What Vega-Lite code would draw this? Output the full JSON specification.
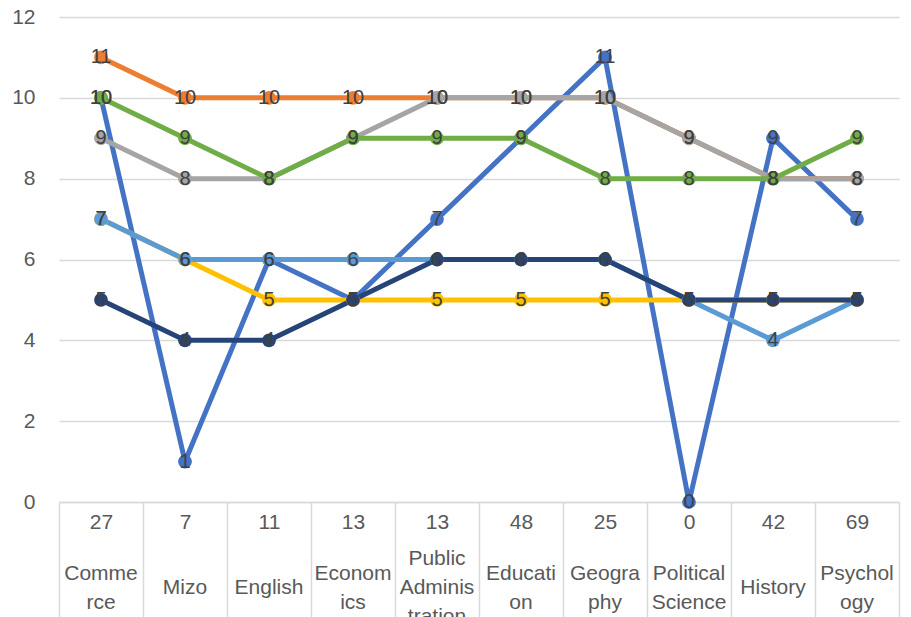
{
  "$schema": "https://vega.github.io/schema/vega-lite/v6.json",
  "width": 840,
  "height": 485,
  "autosize": {"type": "none"},
  "padding": {"left": 59, "top": 17, "right": 12, "bottom": 115},
  "background": "white",
  "config": {"view": {"stroke": null}, "font": "Liberation Sans"},
  "data": {"values": [
    {"subject":"Commerce","series":"S1","value":10},{"subject":"Mizo","series":"S1","value":1},{"subject":"English","series":"S1","value":6},{"subject":"Economics","series":"S1","value":5},{"subject":"Public Administration","series":"S1","value":7},{"subject":"Education","series":"S1","value":9},{"subject":"Geography","series":"S1","value":11},{"subject":"Political Science","series":"S1","value":0},{"subject":"History","series":"S1","value":9},{"subject":"Psychology","series":"S1","value":7},
    {"subject":"Commerce","series":"S2","value":11},{"subject":"Mizo","series":"S2","value":10},{"subject":"English","series":"S2","value":10},{"subject":"Economics","series":"S2","value":10},{"subject":"Public Administration","series":"S2","value":10},{"subject":"Education","series":"S2","value":10},{"subject":"Geography","series":"S2","value":10},{"subject":"Political Science","series":"S2","value":9},{"subject":"History","series":"S2","value":8},{"subject":"Psychology","series":"S2","value":8},
    {"subject":"Commerce","series":"S3","value":9},{"subject":"Mizo","series":"S3","value":8},{"subject":"English","series":"S3","value":8},{"subject":"Economics","series":"S3","value":9},{"subject":"Public Administration","series":"S3","value":10},{"subject":"Education","series":"S3","value":10},{"subject":"Geography","series":"S3","value":10},{"subject":"Political Science","series":"S3","value":9},{"subject":"History","series":"S3","value":8},{"subject":"Psychology","series":"S3","value":8},
    {"subject":"Commerce","series":"S4","value":7},{"subject":"Mizo","series":"S4","value":6},{"subject":"English","series":"S4","value":5},{"subject":"Economics","series":"S4","value":5},{"subject":"Public Administration","series":"S4","value":5},{"subject":"Education","series":"S4","value":5},{"subject":"Geography","series":"S4","value":5},{"subject":"Political Science","series":"S4","value":5},{"subject":"History","series":"S4","value":5},{"subject":"Psychology","series":"S4","value":5},
    {"subject":"Commerce","series":"S5","value":7},{"subject":"Mizo","series":"S5","value":6},{"subject":"English","series":"S5","value":6},{"subject":"Economics","series":"S5","value":6},{"subject":"Public Administration","series":"S5","value":6},{"subject":"Education","series":"S5","value":6},{"subject":"Geography","series":"S5","value":6},{"subject":"Political Science","series":"S5","value":5},{"subject":"History","series":"S5","value":4},{"subject":"Psychology","series":"S5","value":5},
    {"subject":"Commerce","series":"S6","value":10},{"subject":"Mizo","series":"S6","value":9},{"subject":"English","series":"S6","value":8},{"subject":"Economics","series":"S6","value":9},{"subject":"Public Administration","series":"S6","value":9},{"subject":"Education","series":"S6","value":9},{"subject":"Geography","series":"S6","value":8},{"subject":"Political Science","series":"S6","value":8},{"subject":"History","series":"S6","value":8},{"subject":"Psychology","series":"S6","value":9},
    {"subject":"Commerce","series":"S7","value":5},{"subject":"Mizo","series":"S7","value":4},{"subject":"English","series":"S7","value":4},{"subject":"Economics","series":"S7","value":5},{"subject":"Public Administration","series":"S7","value":6},{"subject":"Education","series":"S7","value":6},{"subject":"Geography","series":"S7","value":6},{"subject":"Political Science","series":"S7","value":5},{"subject":"History","series":"S7","value":5},{"subject":"Psychology","series":"S7","value":5}
  ]},
  "encoding": {
    "y": {
      "field": "value", "type": "quantitative",
      "scale": {"domain": [0, 12]},
      "axis": {"values": [0, 2, 4, 6, 8, 10, 12], "title": null, "grid": true, "gridColor": "#d9d9d9", "gridWidth": 1.5, "domain": false, "ticks": false, "labelFontSize": 21, "labelColor": "#595959", "labelPadding": 24}
    },
    "color": {
      "field": "series", "type": "nominal",
      "scale": {"domain": ["S1","S2","S3","S4","S5","S6","S7"], "range": ["#4472C4","#ED7D31","#A5A5A5","#FFC000","#5B9BD5","#70AD47","#264478"]},
      "legend": null
    }
  },
  "layer": [
    {
      "mark": {"type": "line", "strokeWidth": 5, "strokeJoin": "round", "strokeCap": "round"},
      "encoding": {
        "x": {
          "field": "subject", "type": "nominal", "sort": null,
          "scale": {"type": "band", "paddingInner": 0, "paddingOuter": 0},
          "axis": {
            "title": null, "orient": "bottom", "domain": true, "domainColor": "#d9d9d9", "domainWidth": 1.5,
            "ticks": true, "tickBand": "extent", "tickSize": 115, "tickColor": "#d9d9d9", "tickWidth": 1.5,
            "labelAngle": 0, "labelBaseline": "middle", "labelAlign": "center", "labelPadding": -95, "labelFontSize": 21, "labelColor": "#595959", "labelOverlap": false,
            "labelExpr": "{'Commerce':'27','Mizo':'7','English':'11','Economics':'13','Public Administration':'13','Education':'48','Geography':'25','Political Science':'0','History':'42','Psychology':'69'}[datum.value]"
          }
        }
      }
    },
    {
      "mark": {"type": "point", "filled": true, "size": 190, "opacity": 1, "shape": "circle"},
      "encoding": {
        "x": {
          "field": "subject", "type": "nominal", "sort": null,
          "scale": {"type": "band", "paddingInner": 0, "paddingOuter": 0},
          "axis": {
            "title": null, "orient": "bottom", "domain": false, "ticks": false, "grid": false,
            "labelAngle": 0, "labelBaseline": "middle", "labelAlign": "center", "labelPadding": 85, "labelFontSize": 21, "labelColor": "#595959", "labelOverlap": false,
            "labelExpr": "indexof(['Mizo','English','History'], datum.value) >= 0 ? datum.value : ''"
          }
        }
      }
    },
    {
      "transform": [{"filter": "indexof(['S1','S2','S3'], datum.series) >= 0"}],
      "mark": {"type": "text", "fontSize": 20, "align": "center", "baseline": "middle"},
      "encoding": {
        "x": {
          "field": "subject", "type": "nominal", "sort": null,
          "scale": {"type": "band", "paddingInner": 0, "paddingOuter": 0},
          "axis": {
            "title": null, "orient": "bottom", "domain": false, "ticks": false, "grid": false,
            "labelAngle": 0, "labelBaseline": "middle", "labelAlign": "center", "labelPadding": 71, "labelLineHeight": 29, "labelFontSize": 21, "labelColor": "#595959", "labelOverlap": false,
            "labelExpr": "{'Commerce':['Comme','rce'],'Economics':['Econom','ics'],'Education':['Educati','on'],'Geography':['Geogra','phy'],'Political Science':['Political','Science'],'Psychology':['Psychol','ogy']}[datum.value] || ''"
          }
        },
        "text": {"field": "value", "type": "quantitative"},
        "color": {"value": "#404040"}
      }
    },
    {
      "transform": [{"filter": "indexof(['S4','S5','S6','S7'], datum.series) >= 0"}],
      "mark": {"type": "text", "fontSize": 20, "align": "center", "baseline": "middle"},
      "encoding": {
        "x": {
          "field": "subject", "type": "nominal", "sort": null,
          "scale": {"type": "band", "paddingInner": 0, "paddingOuter": 0},
          "axis": {
            "title": null, "orient": "bottom", "domain": false, "ticks": false, "grid": false,
            "labelAngle": 0, "labelBaseline": "middle", "labelAlign": "center", "labelPadding": 56, "labelLineHeight": 29, "labelFontSize": 21, "labelColor": "#595959", "labelOverlap": false,
            "labelExpr": "datum.value == 'Public Administration' ? ['Public','Adminis','tration'] : ''"
          }
        },
        "text": {"field": "value", "type": "quantitative"},
        "color": {"value": "#404040"}
      }
    }
  ],
  "resolve": {"scale": {"x": "independent"}, "axis": {"x": "independent"}}
}
